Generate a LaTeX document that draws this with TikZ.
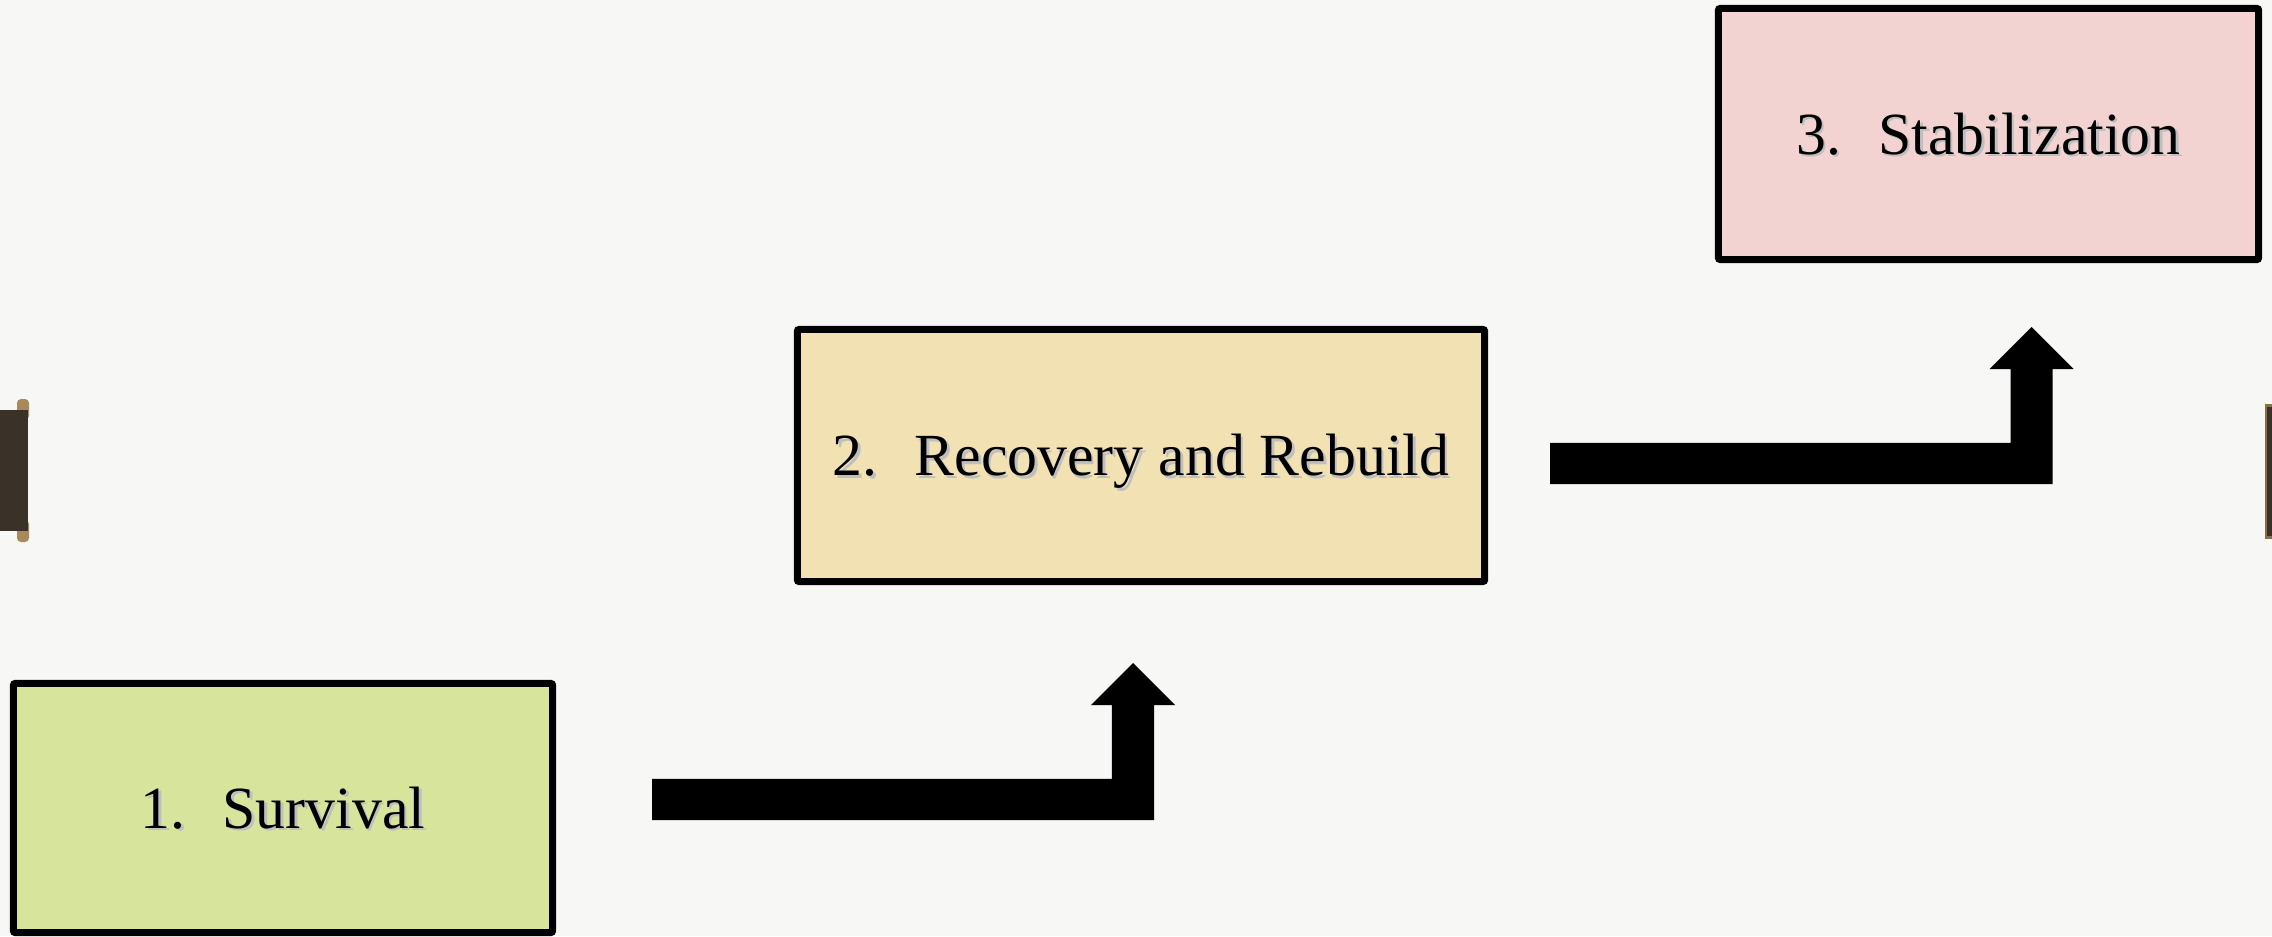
\documentclass[tikz,border=0pt]{standalone}
\usepackage{fontspec}
\setmainfont{Liberation Serif}
\usetikzlibrary{calc}
\definecolor{bg}{HTML}{F7F7F6}
\definecolor{cone}{HTML}{D6E49C}
\definecolor{ctwo}{HTML}{F2E1B3}
\definecolor{cthree}{HTML}{F2D3D1}
\definecolor{scrolldark}{HTML}{3A3129}
\definecolor{scrollgold}{HTML}{A8895A}
\newcommand{\shtext}[1]{\leavevmode\rlap{\kern0.025cm\raisebox{-0.025cm}{\color{black!25}#1}}#1}
\newcommand{\bentarrow}[2]{%
  \fill[black] let \p1=(#1), \p2=(#2) in
    (\x1,\y1+0.205cm) -- (\x2-0.21cm,\y1+0.205cm) -- (\x2-0.21cm,\y2-0.42cm)
    -- (\x2-0.42cm,\y2-0.42cm) -- (\x2,\y2) -- (\x2+0.42cm,\y2-0.42cm)
    -- (\x2+0.21cm,\y2-0.42cm) -- (\x2+0.21cm,\y1-0.205cm) -- (\x1,\y1-0.205cm) -- cycle;}
\begin{document}
\begin{tikzpicture}[x=0.01cm,y=-0.01cm,
  stage/.style={draw=black, line width=0.07cm, rounded corners=0.02cm,
    inner sep=0pt, text height=0.40cm, text depth=0pt,
    font=\fontsize{17}{20}\selectfont, text=black}]
\useasboundingbox (0,0) rectangle (2272,936);
\fill[bg] (0,0) rectangle (2272,936);
% scroll edges
\fill[scrollgold, rounded corners=0.04cm] (17,399) rectangle (29,420);
\fill[scrollgold, rounded corners=0.04cm] (17,520) rectangle (29,542);
\fill[scrolldark] (0,410) rectangle (28,531);
\fill[scrollgold!70!scrolldark] (2265,404) rectangle (2272,539);
\fill[scrolldark] (2267,407) rectangle (2272,536);
% stages
\node[stage, fill=cone, minimum width=5.39cm, minimum height=2.49cm] (s1) at (283,808)
  {\shtext{1.\hspace{0.37cm}Survival}};
\node[stage, fill=ctwo, minimum width=6.87cm, minimum height=2.52cm] (s2) at (1141,455.5)
  {\shtext{2.\hspace{0.37cm}Recovery and Rebuild}};
\node[stage, fill=cthree, minimum width=5.40cm, minimum height=2.51cm] (s3) at (1988.5,134)
  {\shtext{3.\hspace{0.37cm}Stabilization}};
% bent block arrows
\coordinate (a1s) at (652,799.5);
\coordinate (a1t) at (1133,663);
\coordinate (a2s) at (1550,463.5);
\coordinate (a2t) at (2031.5,327);
\bentarrow{a1s}{a1t}
\bentarrow{a2s}{a2t}
\end{tikzpicture}
\end{document}
